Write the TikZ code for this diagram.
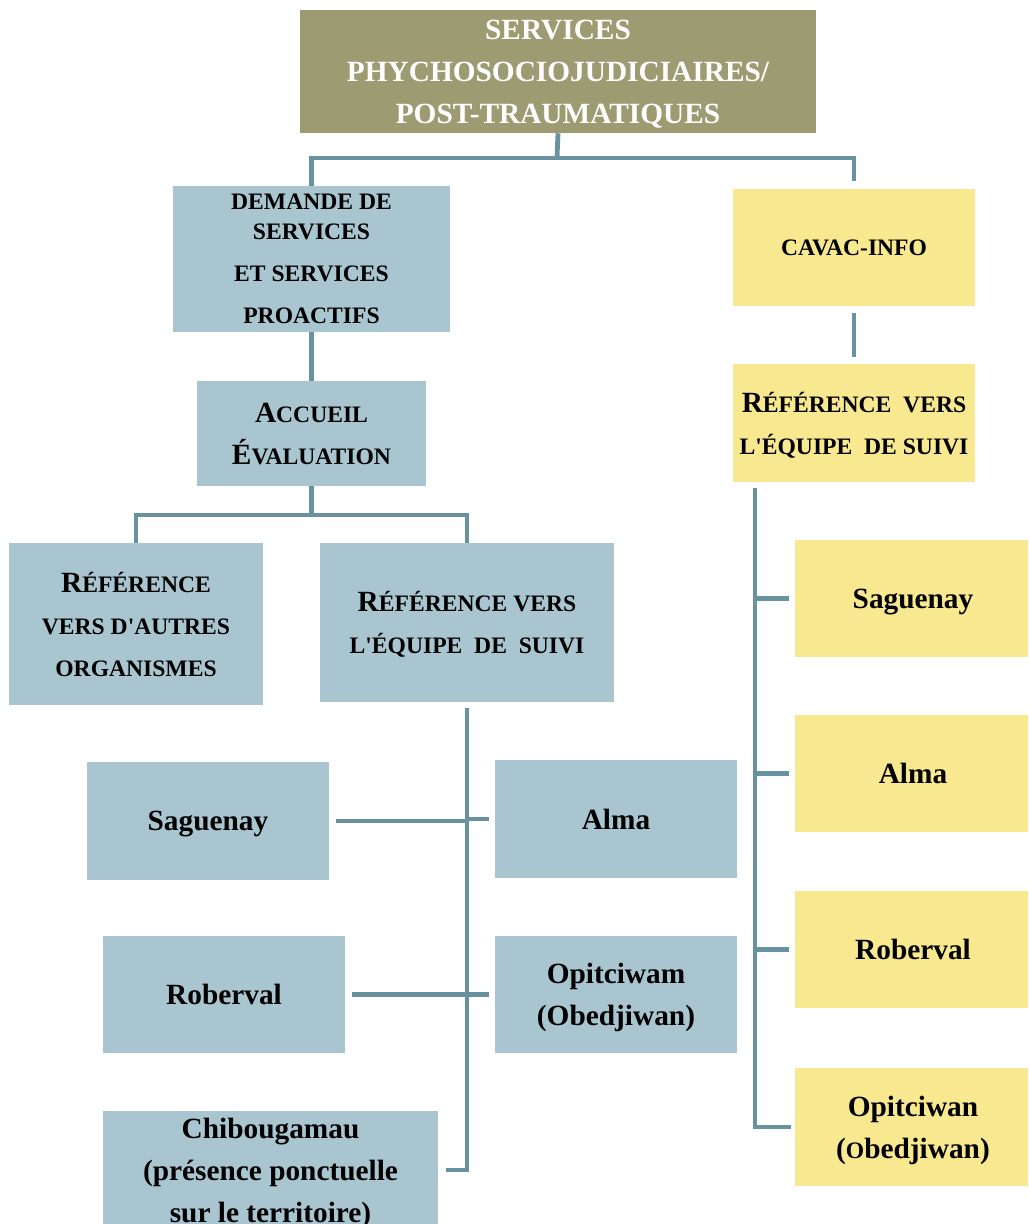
\documentclass[tikz,border=0pt]{standalone}
\usepackage{fontspec}
\setmainfont{Liberation Serif}
\definecolor{oliveFill}{RGB}{156,155,114}
\definecolor{blueFill}{RGB}{169,198,208}
\definecolor{yellowFill}{RGB}{248,232,143}
\definecolor{linkColor}{RGB}{104,146,160}
% small capitals made by hand
\newcommand{\smc}[1]{{\fontsize{17.7}{31.5}\selectfont #1}}
\newcommand{\apos}{\textquotesingle}

\begin{document}
\begin{tikzpicture}[x=0.75pt,y=-0.75pt]

  \tikzstyle{box}=[inner sep=0pt,align=center,text depth=0pt,font=\bfseries\fontsize{22}{31.5}\selectfont]
  \tikzstyle{titlebox}=[box,fill=oliveFill,text=white]
  \tikzstyle{bluebox}=[box,fill=blueFill]
  \tikzstyle{yellowbox}=[box,fill=yellowFill]
  \tikzstyle{link}=[draw=linkColor,line width=3.6pt]

  \useasboundingbox (0,0) rectangle (1028,1224);
  \clip (0,0) rectangle (1028,1224);

  % top
  \node[titlebox,minimum width=516*0.75pt,minimum height=123*0.75pt] (title) at (558,71.5)
    {SERVICES\\PHYCHOSOCIOJUDICIAIRES/\\POST-TRAUMATIQUES};

  % left column
  \node[bluebox,minimum width=277*0.75pt,minimum height=146*0.75pt] (demande) at (311.5,259)
    {\smc{DEMANDE DE}\\[-9pt]\smc{SERVICES}\\\smc{ET SERVICES}\\\smc{PROACTIFS}};
  \node[bluebox,minimum width=229*0.75pt,minimum height=105*0.75pt] (accueil) at (311.5,433.5)
    {A\smc{CCUEIL}\\É\smc{VALUATION}};
  \node[bluebox,minimum width=254*0.75pt,minimum height=162*0.75pt] (refL) at (136,624)
    {R\smc{ÉFÉRENCE}\\\smc{VERS D\apos AUTRES}\\\smc{ORGANISMES}};
  \node[bluebox,minimum width=294*0.75pt,minimum height=159*0.75pt] (refM) at (467,622.5)
    {R\smc{ÉFÉRENCE VERS}\\\smc{L\apos ÉQUIPE\ \ DE\ \ SUIVI}};

  \node[bluebox,minimum width=242*0.75pt,minimum height=118*0.75pt] (sagL) at (208,821) {Saguenay};
  \node[bluebox,minimum width=242*0.75pt,minimum height=118*0.75pt] (almaL) at (616,819) {Alma};
  \node[bluebox,minimum width=242*0.75pt,minimum height=117*0.75pt] (robL) at (224,994.5) {Roberval};
  \node[bluebox,minimum width=242*0.75pt,minimum height=117*0.75pt] (opiL) at (616,994.5)
    {Opitciwam\\(Obedjiwan)};
  \node[bluebox,minimum width=335*0.75pt,minimum height=118*0.75pt] (chibL) at (270.5,1170)
    {Chibougamau\\(présence ponctuelle\\sur le territoire)};

  % right column
  \node[yellowbox,minimum width=242*0.75pt,minimum height=117*0.75pt] (cavac) at (854,247.5)
    {\smc{CAVAC-INFO}};
  \node[yellowbox,minimum width=242*0.75pt,minimum height=118*0.75pt] (refR) at (854,423)
    {R\smc{ÉFÉRENCE\ \ VERS}\\\smc{L\apos ÉQUIPE\ \ DE SUIVI}};

  \node[yellowbox,minimum width=236*0.75pt,minimum height=117*0.75pt] (sagR) at (913,598.5) {Saguenay};
  \node[yellowbox,minimum width=236*0.75pt,minimum height=117*0.75pt] (almaR) at (913,773.5) {Alma};
  \node[yellowbox,minimum width=236*0.75pt,minimum height=117*0.75pt] (robR) at (913,949.5) {Roberval};
  \node[yellowbox,minimum width=236*0.75pt,minimum height=118*0.75pt] (opiR) at (913,1127)
    {Opitciwan\\(\smc{O}bedjiwan)};

  % connectors
  \coordinate (hub1) at (557,158);
  \coordinate (hub2) at (311.5,515);
  \coordinate (spineL) at (467,708);
  \coordinate (spineR) at (755,488);

  \draw[link] (title.south) -- (hub1);
  \draw[link] (demande.north) |- (hub1);
  \draw[link,shorten >=6pt] (hub1) -| (cavac.north);
  \draw[link] (demande) -- (accueil);
  \draw[link] (accueil.south) -- (hub2);
  \draw[link] (refL.north) |- (hub2) -| (refM.north);
  \draw[link,shorten <=5pt,shorten >=5pt] (cavac) -- (refR);

  \draw[link] (spineL) -- (spineL |- chibL.east) -- ([xshift=6]chibL.east);
  \foreach \name in {sagL,robL}
    \draw[link,shorten <=5pt] (\name.east) -- (\name.east -| spineL);
  \foreach \name in {almaL,opiL}
    \draw[link,shorten <=4pt] (\name.west) -- (\name.west -| spineL);

  \draw[link] (spineR) -- (spineR |- opiR.west) -- ([xshift=-3]opiR.west);
  \foreach \name in {sagR,almaR,robR}
    \draw[link,shorten >=4pt] (spineR |- \name.west) -- (\name.west);
\end{tikzpicture}
\end{document}
